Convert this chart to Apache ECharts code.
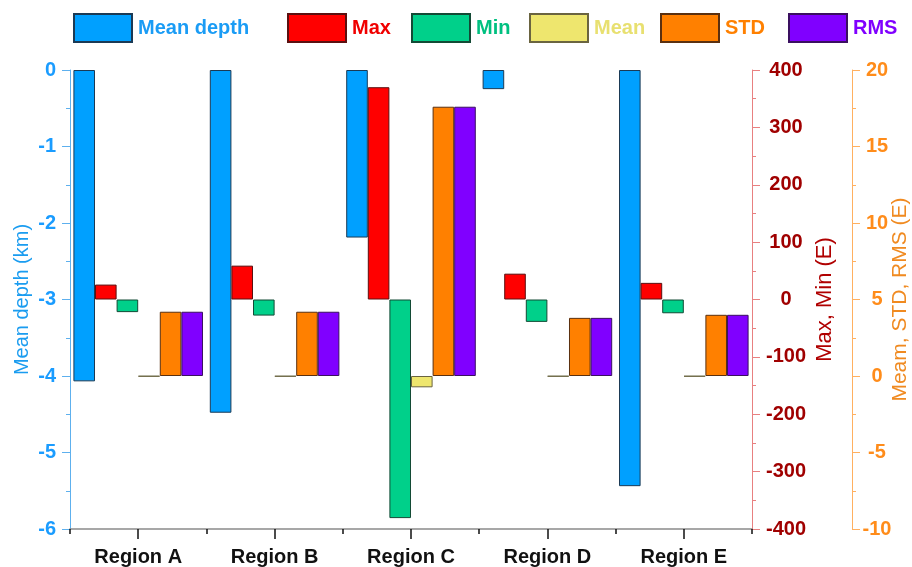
<!DOCTYPE html>
<html><head><meta charset="utf-8">
<script src="https://cdn.jsdelivr.net/npm/echarts@6/dist/echarts.min.js"></script>
<style>html,body{margin:0;padding:0;background:#fff}#c{width:912px;height:567px}</style>
</head><body><div id="c"></div>
<script>
const categories = ['Region A', 'Region B', 'Region C', 'Region D', 'Region E'];
const meanDepth = [-4.07, -4.48, -2.19, -0.25, -5.44];
const maxVals = [26, 59, 370, 45, 29];
const minVals = [-22, -28, -381, -39, -24];
const meanVals = [-0.03, -0.03, -0.74, -0.03, -0.03];
const stdVals = [4.2, 4.2, 17.6, 3.8, 4.0];
const rmsVals = [4.2, 4.2, 17.6, 3.8, 4.0];
const leftTicks = [-6, 0, 1];
const right1Ticks = [-400, 400, 100];
const right2Ticks = [-10, 20, 5];

const FF = 'Liberation Sans, Arial, sans-serif';
const colors = {
  depth: '#00A0FF', max: '#FF0000', min: '#00D08A', mean: '#EEE66E', std: '#FF8000', rms: '#8000FF'
};
const legendText = {
  depth: '#1A9CF5', max: '#F00000', min: '#00C080', mean: '#E8E070', std: '#FF8000', rms: '#8000FF'
};
const names = {depth: 'Mean depth', max: 'Max', min: 'Min', mean: 'Mean', std: 'STD', rms: 'RMS'};
const legendLeft = {depth: 73, max: 287, min: 411, mean: 529, std: 660, rms: 788};

function yAxisCfg(ticks, pos, offset, lineColor, labelColor, name, nameColor, nameSize, nameGap, labelMargin, align) {
  return {
    type: 'value', position: pos, offset: offset,
    min: ticks[0], max: ticks[1], interval: ticks[2],
    name: name, nameLocation: 'middle', nameRotate: 90, nameGap: nameGap, nameMoveOverlap: false,
    nameTextStyle: {color: nameColor, fontSize: nameSize, fontFamily: FF},
    axisLine: {show: true, onZero: false, lineStyle: {color: lineColor, width: 1}},
    axisTick: {show: true, inside: false, length: 8, lineStyle: {color: lineColor}},
    minorTick: {show: true, splitNumber: 2, length: 4, lineStyle: {color: lineColor}},
    axisLabel: {color: labelColor, fontSize: 20, fontWeight: 'bold', fontFamily: FF, margin: labelMargin, align: align},
    splitLine: {show: false}, minorSplitLine: {show: false}
  };
}

const border = {depth: '#1B3A55', max: '#5A1010', min: '#134A35', mean: '#6A6440', std: '#5A3010', rms: '#3A1060'};
function bar(key, data, yIdx) {
  return {
    name: names[key], type: 'bar', yAxisIndex: yIdx, xAxisIndex: 0, data: data,
    barGap: '0%', barCategoryGap: '5%',
    itemStyle: {color: colors[key], borderColor: border[key], borderWidth: 1},
    emphasis: {disabled: true}
  };
}

const keys = ['depth', 'max', 'min', 'mean', 'std', 'rms'];
const legends = keys.map(k => ({
  left: legendLeft[k], top: 13, padding: 0, itemWidth: 58, itemHeight: 28, itemGap: 0,
  icon: 'rect', selectedMode: false,
  data: [{name: names[k], textStyle: {color: legendText[k]}}],
  textStyle: {fontSize: 20, fontWeight: 'bold', fontFamily: FF, padding: [0, 0, 0, 1]}
}));

const chart = echarts.init(document.getElementById('c'), null, {renderer: 'canvas'});
chart.setOption({
  animation: false,
  backgroundColor: '#fff',
  legend: legends,
  grid: {left: 70, right: 160, top: 70, bottom: 38, containLabel: false, outerBoundsMode: 'none'},
  xAxis: [{
    type: 'category', data: categories, position: 'bottom',
    axisLine: {show: true, onZero: false, lineStyle: {color: '#8a8a8a', width: 1.5}},
    axisTick: {show: true, alignWithLabel: true, length: 10, lineStyle: {color: '#111', width: 1.5}},
    axisLabel: {color: '#111', fontSize: 20, fontWeight: 'bold', fontFamily: FF, margin: 18},
    splitLine: {show: false}
  }, {
    type: 'category', data: categories, position: 'bottom',
    axisLine: {show: false, onZero: false},
    axisTick: {show: true, length: 5, lineStyle: {color: '#111', width: 1.5}},
    axisLabel: {show: false}, splitLine: {show: false}
  }],
  yAxis: [
    yAxisCfg(leftTicks, 'left', 0, '#5DB0EE', '#1A9CFF', 'Mean depth (km)', '#1A9CF0', 20, 38, 14, 'right'),
    yAxisCfg(right1Ticks, 'right', 0, '#E88080', '#A00000', 'Max, Min (E)', '#B00000', 22, 62, 34, 'center'),
    yAxisCfg(right2Ticks, 'right', 100, '#FFB060', '#FF8C1A', 'Meam, STD, RMS (E)', '#F08A20', 21, 38, 25, 'center')
  ],
  series: [
    bar('depth', meanDepth, 0),
    bar('max', maxVals, 1),
    bar('min', minVals, 1),
    bar('mean', meanVals, 2),
    bar('std', stdVals, 2),
    bar('rms', rmsVals, 2)
  ]
});
</script>
</body></html>
